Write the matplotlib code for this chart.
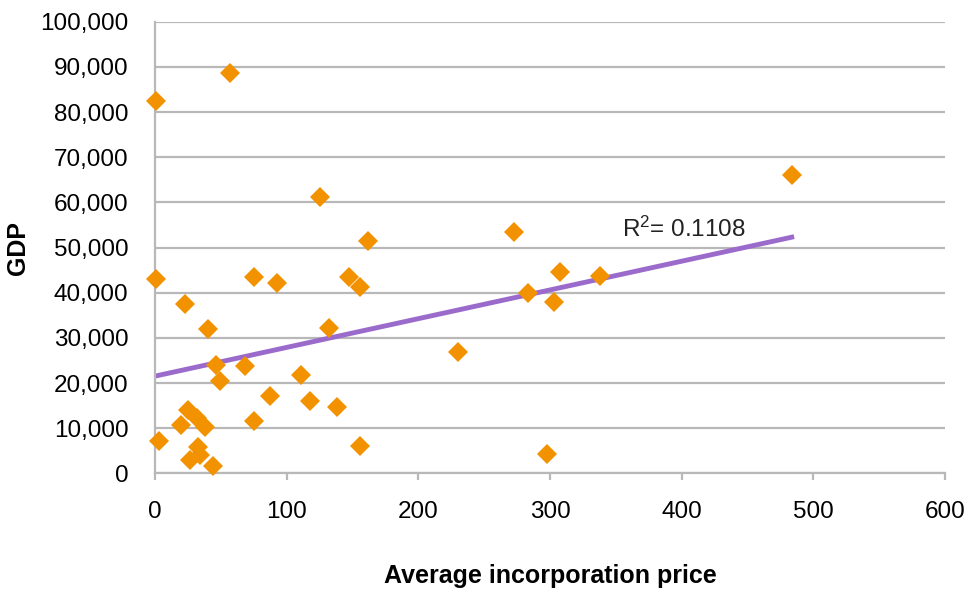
import numpy as np
import matplotlib
matplotlib.use("Agg")
import matplotlib.pyplot as plt
from matplotlib.ticker import FuncFormatter, MultipleLocator

plt.rcParams['font.family'] = ['Liberation Sans', 'DejaVu Sans']
plt.rcParams['mathtext.default'] = 'regular'

# Data
price = [1, 57, 125, 162, 1, 75, 93, 147.5, 155.5, 23, 40.5, 132, 46, 49, 68.6,
         111, 87.5, 118, 138, 75.4, 25.3, 31.6, 38, 20, 3, 33, 34, 26.6, 43.8,
         156, 484, 273, 307.5, 338, 283, 303, 230, 298]
gdp = [82500, 88600, 61100, 51500, 43000, 43500, 42200, 43400, 41200, 37500,
       31900, 32300, 24000, 20500, 23800, 21800, 17100, 16100, 14800, 11700,
       14000, 12200, 10300, 10700, 7200, 5900, 4050, 2950, 1600,
       6100, 66000, 53500, 44500, 43800, 39900, 37900, 26800, 4400]
# Linear trend line as shown in the reference
trend_intercept = 21550
trend_slope = 63.6
trend_x_end = 485.4
r2_label = "R$^2$= 0.1108"
x_label = "Average incorporation price"
y_label = "GDP"

x = np.array(price, dtype=float)
y = np.array(gdp, dtype=float)

fig = plt.figure(figsize=(9.64, 5.92), dpi=100)
ax = fig.add_axes([0.1608, 0.2002, 0.8195, 0.7631])

grid_c = '#b8b8b8'
ax.set_xlim(0, 600)
ax.set_ylim(0, 100000)
ax.yaxis.set_major_locator(MultipleLocator(10000))
ax.xaxis.set_major_locator(MultipleLocator(100))
ax.yaxis.set_major_formatter(FuncFormatter(lambda v, p: f"{int(v):,}"))
ax.grid(axis='y', color=grid_c, linewidth=1.6)
ax.set_axisbelow(True)
for s in ['top', 'right']:
    ax.spines[s].set_visible(False)
for s in ['left', 'bottom']:
    ax.spines[s].set_color(grid_c)
    ax.spines[s].set_linewidth(1.6)
ax.tick_params(axis='y', length=0, pad=19, labelsize=17.5)
ax.tick_params(axis='x', length=5, width=1.6, color=grid_c, pad=15, labelsize=17.5, direction='out')

xs = np.array([0, trend_x_end])
ax.plot(xs, trend_intercept + trend_slope * xs, color='#9b6bcb', linewidth=3.5,
        solid_capstyle='butt', zorder=2)
ax.plot(x, y, linestyle='none', marker='D', markersize=10.5, color='#f39200',
        markeredgewidth=0, zorder=3, clip_on=False)

ax.text(355, 52400, r2_label, fontsize=17.5, color='#222222', ha='left', va='baseline')

ax.set_xlabel(x_label, fontsize=18, fontweight='bold')
ax.set_ylabel(y_label, fontsize=18, fontweight='bold')
ax.xaxis.set_label_coords(0.5, -0.2)
ax.yaxis.set_label_coords(-0.158, 0.5)

fig.savefig('out.png', dpi=100)
